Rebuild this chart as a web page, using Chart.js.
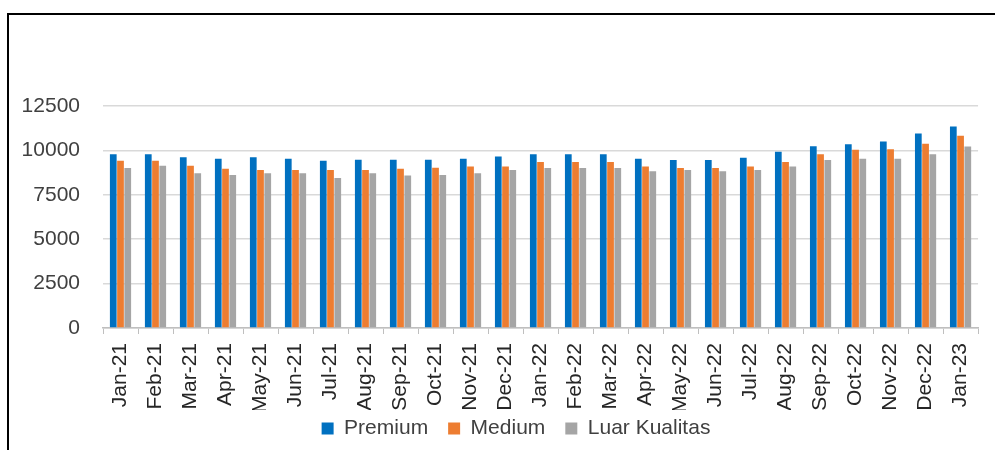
<!DOCTYPE html>
<html lang="id">
<head>
    <meta charset="UTF-8">
    <title>Harga Beras</title>
    <script src="https://cdn.jsdelivr.net/npm/chart.js"></script>
    <style>
        html, body { margin: 0; padding: 0; background: #fff; overflow: hidden; }
        .frame {
            position: absolute;
            left: 7px; top: 13px;
            width: 988px; height: 437px;
            border-left: 2px solid #000;
            border-top: 2px solid #000;
            box-sizing: border-box;
        }
        .frame canvas { display: block; }
    </style>
</head>
<body>
    <div class="frame">
        <canvas id="hargaChart" width="986" height="435"></canvas>
    </div>

    <script>
        const months = ['Jan-21', 'Feb-21', 'Mar-21', 'Apr-21', 'May-21', 'Jun-21', 'Jul-21', 'Aug-21',
            'Sep-21', 'Oct-21', 'Nov-21', 'Dec-21', 'Jan-22', 'Feb-22', 'Mar-22', 'Apr-22', 'May-22',
            'Jun-22', 'Jul-22', 'Aug-22', 'Sep-22', 'Oct-22', 'Nov-22', 'Dec-22', 'Jan-23'];
        const premium = [9790, 9790, 9610, 9530, 9610, 9530, 9420, 9480, 9480, 9480, 9530, 9660,
            9790, 9790, 9790, 9530, 9460, 9460, 9590, 9930, 10240, 10350, 10500, 10950, 11340];
        const medium = [9420, 9420, 9140, 8960, 8900, 8900, 8900, 8900, 8970, 9030, 9090, 9090,
            9350, 9350, 9350, 9090, 9010, 9010, 9090, 9350, 9790, 10040, 10060, 10370, 10820];
        const luarKualitas = [9010, 9140, 8710, 8620, 8710, 8710, 8450, 8710, 8580, 8620, 8710, 8900,
            9010, 9010, 9010, 8830, 8900, 8830, 8900, 9090, 9460, 9530, 9530, 9790, 10220];
        const yTicks = [0, 2500, 5000, 7500, 10000, 12500];

        const FONT = 'Liberation Sans, Arial, sans-serif';

        // legend sits a bit into the tick-label band, like the original
        const legendNudge = {
            id: 'legendNudge',
            afterLayout(chart) {
                const lg = chart.legend;
                lg.top -= 12;
                lg.bottom -= 12;
                lg.left += 20;
                lg.right += 20;
            }
        };

        const ctx = document.getElementById('hargaChart').getContext('2d');
        new Chart(ctx, {
            type: 'bar',
            data: {
                labels: months,
                datasets: [
                    { label: 'Premium', data: premium, backgroundColor: '#0070C0' },
                    { label: 'Medium', data: medium, backgroundColor: '#ED7D31' },
                    { label: 'Luar Kualitas', data: luarKualitas, backgroundColor: '#A5A5A5' }
                ]
            },
            plugins: [legendNudge],
            options: {
                responsive: false,
                animation: false,
                layout: { padding: { top: 91, right: 12, left: 0, bottom: 1 } },
                datasets: {
                    bar: { categoryPercentage: 0.62, barPercentage: 0.93 }
                },
                plugins: {
                    tooltip: { enabled: false },
                    legend: {
                        position: 'bottom',
                        maxHeight: 39,
                        labels: {
                            boxWidth: 12,
                            boxHeight: 12,
                            padding: 20,
                            color: '#404040',
                            font: { family: FONT, size: 21 }
                        }
                    }
                },
                scales: {
                    x: {
                        offset: true,
                        afterFit: axis => { axis.height = 82; },
                        grid: {
                            offset: true,
                            drawOnChartArea: false,
                            color: '#BFBFBF',
                            tickLength: 6
                        },
                        border: { color: '#BFBFBF', width: 1.5 },
                        ticks: {
                            autoSkip: false,
                            maxRotation: 90,
                            minRotation: 90,
                            padding: 9,
                            color: '#262626',
                            font: { family: FONT, size: 21 }
                        }
                    },
                    y: {
                        min: 0,
                        max: 12500,
                        afterBuildTicks: axis => { axis.ticks = yTicks.map(v => ({ value: v })); },
                        afterFit: axis => { axis.width = 94; },
                        grid: { color: '#D9D9D9', lineWidth: 1.5, drawTicks: false },
                        border: { display: false },
                        ticks: {
                            padding: 23,
                            color: '#404040',
                            font: { family: FONT, size: 21 },
                            callback: v => String(v)
                        }
                    }
                }
            }
        });
    </script>
</body>
</html>
